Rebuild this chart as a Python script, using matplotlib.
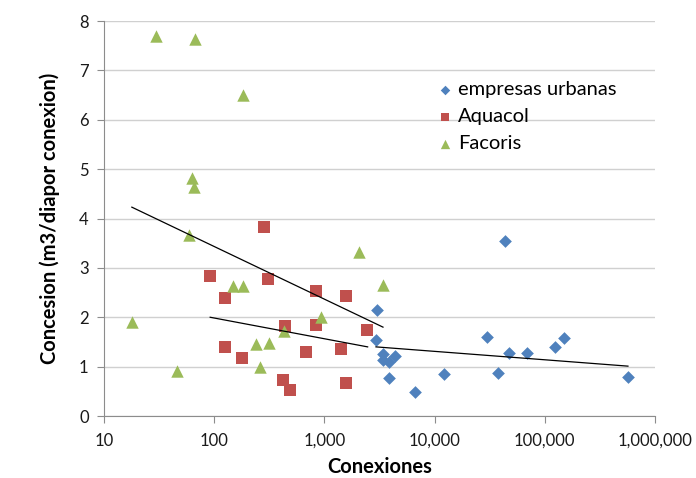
import matplotlib
matplotlib.use("Agg")
import matplotlib.pyplot as plt
from matplotlib.ticker import FuncFormatter, NullLocator

# empresas urbanas
urb_x = [43500, 3000, 2940, 3400, 3400, 3850, 4380, 3850, 6640, 12160,
         29900, 37600, 47300, 68900, 124000, 149000, 569000]
urb_y = [3.54, 2.14, 1.54, 1.25, 1.13, 1.10, 1.21, 0.77, 0.49, 0.85,
         1.61, 0.87, 1.28, 1.28, 1.40, 1.59, 0.79]

# Aquacol
aqu_x = [283, 92, 125, 308, 839, 1571, 2439, 439, 839, 125,
         179, 680, 1415, 421, 487, 1571]
aqu_y = [3.82, 2.84, 2.39, 2.77, 2.53, 2.43, 1.74, 1.82, 1.84, 1.40,
         1.17, 1.30, 1.36, 0.72, 0.53, 0.67]

# Facoris
fac_x = [29.7, 67, 182, 63, 65.6, 59, 17.9, 46, 148, 182,
         239, 314, 261, 430, 931, 2061, 3404]
fac_y = [7.69, 7.63, 6.50, 4.82, 4.63, 3.66, 1.90, 0.91, 2.63, 2.63,
         1.46, 1.48, 0.99, 1.72, 2.00, 3.32, 2.65]

# logarithmic trendlines (start / end)
trend_fac_x = [17.9, 3404]
trend_fac_y = [4.23, 1.80]
trend_aqu_x = [92, 2470]
trend_aqu_y = [2.00, 1.40]
trend_urb_x = [2940, 569000]
trend_urb_y = [1.40, 1.01]

BLUE = "#4F81BD"
RED = "#C0504D"
GREEN = "#9BBB59"

plt.rcParams['font.family'] = ['Lato', 'DejaVu Sans']

fig = plt.figure(figsize=(6.96, 4.78), dpi=100)
ax = fig.add_axes([0.1494, 0.1297, 0.7916, 0.8263])

ax.scatter(urb_x, urb_y, marker='D', s=42, color=BLUE, label='empresas urbanas', zorder=3, linewidths=0)
ax.scatter(aqu_x, aqu_y, marker='s', s=70, color=RED, label='Aquacol', zorder=3, linewidths=0)
ax.scatter(fac_x, fac_y, marker='^', s=80, color=GREEN, label='Facoris', zorder=3, linewidths=0)

for tx, ty in [(trend_fac_x, trend_fac_y), (trend_aqu_x, trend_aqu_y), (trend_urb_x, trend_urb_y)]:
    ax.plot(tx, ty, color='black', lw=0.9, zorder=4)

ax.set_xscale('log')
ax.set_xlim(10, 1e6)
ax.set_ylim(0, 8)
ax.set_yticks(range(0, 9))
ax.xaxis.set_major_formatter(FuncFormatter(lambda v, p: f"{int(round(v)):,}"))
ax.xaxis.set_minor_locator(NullLocator())

ax.grid(axis='y', color='#d0d0d0', lw=1.0)
ax.set_axisbelow(True)
for s in ['top', 'right']:
    ax.spines[s].set_visible(False)
for s in ['left', 'bottom']:
    ax.spines[s].set_color('#8c8c8c')
ax.tick_params(axis='both', colors='#8c8c8c', length=5, labelsize=12, labelcolor='#1a1a1a')
ax.tick_params(axis='x', pad=7)
ax.tick_params(axis='y', pad=6)

ax.set_xlabel('Conexiones', fontsize=14.5, fontweight='bold', labelpad=6)
ax.set_ylabel('Concesion (m3/diapor conexion)', fontsize=14.5, fontweight='bold', labelpad=14)

ax.legend(loc='upper left', bbox_to_anchor=(0.6135, 0.852), bbox_transform=fig.transFigure,
          frameon=False, fontsize=14.5, borderpad=0, handlelength=0.8, handletextpad=0.25,
          labelspacing=0.5, scatterpoints=1, markerscale=0.75)

fig.savefig('out.png', dpi=100)
